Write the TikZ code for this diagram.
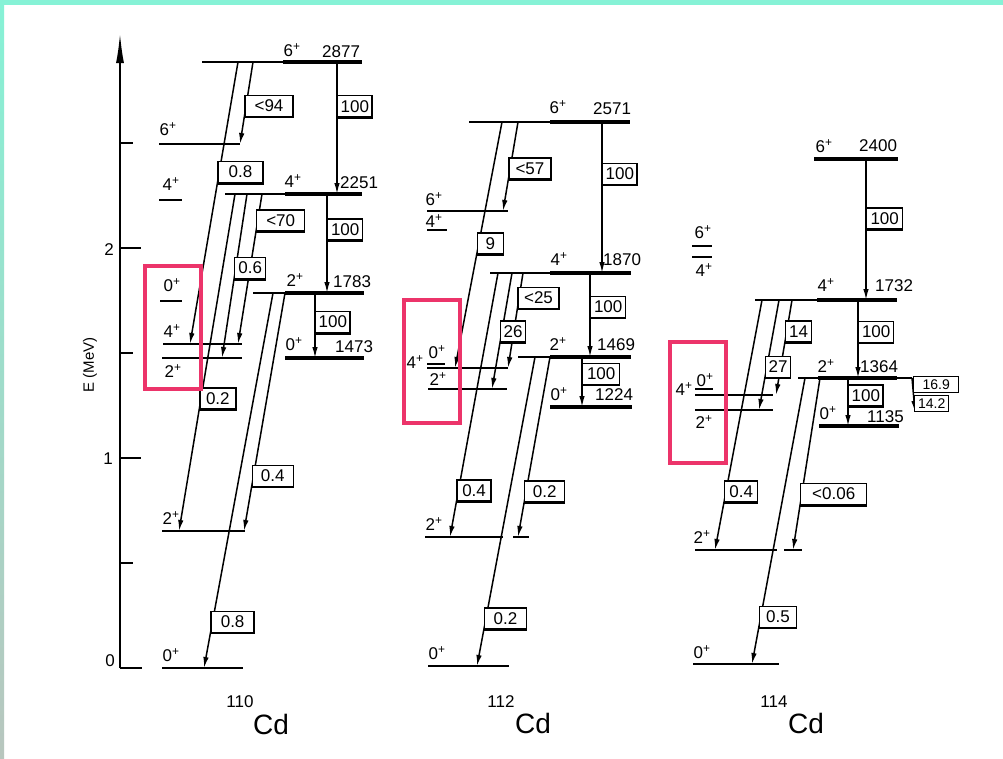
\documentclass[tikz,border=0pt]{standalone}
\usepackage{fontspec}
\setmainfont{Liberation Sans}
\usetikzlibrary{arrows.meta,calc}
\definecolor{mint}{RGB}{134,242,214}
\definecolor{mintlow}{RGB}{184,198,190}
\definecolor{hl}{RGB}{236,52,106}
\newcommand\jp[1]{#1\textsuperscript{+}}
% name, start, pos, end, width, text
\newcommand\lbox[6]{\node[lab,minimum width=#5] (#1) at ($(#2)!#3!(#4)$) {#6};
  \draw[line width=2.6pt] (#1.south west) -- (#1.south east);}
\begin{document}
\begin{tikzpicture}[x=1pt,y=-1pt,
  lev/.style={line width=1.8pt},
  band/.style={line width=4.8pt},
  tr/.style={line width=1.5pt,-{Latex[length=11pt,width=5.5pt]}},
  lab/.style={draw,line width=1.4pt,fill=white,anchor=south west,inner xsep=3pt,inner ysep=0pt,
    minimum height=21pt,font=\fontsize{17}{17}\selectfont},
  jlab/.style={font=\fontsize{17}{17}\selectfont,inner sep=0pt},
  elab/.style={font=\fontsize{17}{17}\selectfont,inner sep=0pt},
  hbox/.style={draw=hl,line width=4pt},
]
\useasboundingbox (0,0) rectangle (1003,758);
\fill[white] (0,0) rectangle (1003,758);
\fill[mint] (0,0) rectangle (1003,5);
\shade[top color=mint,bottom color=mintlow] (0,0) rectangle (4,758);

% ---------- axis ----------
\coordinate (ax0) at (120,668);
\coordinate (axtop) at (120,33);
\draw[line width=1.9pt,-{Latex[length=30pt,width=8pt]}] (ax0) -- (axtop);
\draw[lev] (120,668) -- (142,668) (120,563) -- (133,563) (120,458) -- (141,458)
           (120,353) -- (133,353) (120,248) -- (141,248) (120,143) -- (133,143);
\node[elab] (t0) at (110,661) {0};
\node[elab] (t1) at (108,459) {1};
\node[elab] (t2) at (109,250) {2};
\node[font=\fontsize{15}{15}\selectfont,rotate=90] (eax) at (90,365) {E (MeV)};

% ---------- 110Cd ----------
\draw[lev] (162,668) -- (243,668);
\draw[lev] (162,531) -- (245,531);
\draw[lev] (163,344) -- (242,344);
\draw[lev] (162,358) -- (242,358);
\draw[lev] (160,301) -- (182,301);
\draw[lev] (159,200) -- (182,200);
\draw[lev] (159,144) -- (240,144);
\draw[lev] (202,62) -- (283,62);  \draw[band] (283,62) -- (362,62);
\draw[lev] (225,194) -- (285,194); \draw[band] (285,194) -- (362,194);
\draw[lev] (253,293) -- (285,293); \draw[band] (285,293) -- (364,293);
\draw[band] (285,358) -- (364,358);

\node[jlab] (a0) at (171,655) {\jp{0}};
\node[jlab] (a2) at (171,518) {\jp{2}};
\node[jlab] (a4t) at (172,331) {\jp{4}};
\node[jlab] (a2t) at (173,371) {\jp{2}};
\node[jlab] (a0t) at (172,285) {\jp{0}};
\node[jlab] (a4l) at (171,184) {\jp{4}};
\node[jlab] (a6l) at (168,129) {\jp{6}};
\node[jlab] (a6b) at (292,50) {\jp{6}};
\node[jlab,anchor=west] (e2877) at (322,52) {2877};
\node[jlab] (a4b) at (293,181) {\jp{4}};
\node[jlab,anchor=west] (e2251) at (340,183) {2251};
\node[jlab] (a2b) at (295,280) {\jp{2}};
\node[jlab,anchor=west] (e1783) at (333,282) {1783};
\node[jlab] (a0b) at (294,344) {\jp{0}};
\node[jlab,anchor=west] (e1473) at (335,347) {1473};

\coordinate (p1s) at (337,62);  \coordinate (p1e) at (337,194);
\coordinate (p2s) at (327,194); \coordinate (p2e) at (327,293);
\coordinate (p3s) at (315,293); \coordinate (p3e) at (315,358);
\coordinate (p4s) at (238,62);  \coordinate (p4e) at (190,344);
\coordinate (p5s) at (253,62);  \coordinate (p5e) at (240,144);
\coordinate (p6s) at (262,194); \coordinate (p6e) at (238,344);
\coordinate (p7s) at (247,194); \coordinate (p7e) at (222,358);
\coordinate (p8s) at (235,194); \coordinate (p8e) at (179,531);
\coordinate (p9s) at (285,293); \coordinate (p9e) at (244,531);
\coordinate (p10s) at (273,293); \coordinate (p10e) at (204,668);
\foreach \i in {1,...,10} {\draw[tr] (p\i s) -- (p\i e);}
\lbox{pb1}{p1s}{0.42}{p1e}{31pt}{100}
\lbox{pb2}{p2s}{0.47}{p2e}{35pt}{100}
\lbox{pb3}{p3s}{0.62}{p3e}{33pt}{100}
\lbox{pb4}{p4s}{0.43}{p4e}{45pt}{0.8}
\lbox{pb5}{p5s}{0.67}{p5e}{48pt}{<94}
\lbox{pb6}{p6s}{0.25}{p6e}{48pt}{<70}
\lbox{pb7}{p7s}{0.52}{p7e}{31pt}{0.6}
\lbox{pb8}{p8s}{0.64}{p8e}{36pt}{0.2}
\lbox{pb9}{p9s}{0.815}{p9e}{41pt}{0.4}
\lbox{pb10}{p10s}{0.907}{p10e}{43pt}{0.8}

\node[elab] (m110) at (240,702) {110};
\node[font=\fontsize{28}{28}\selectfont,inner sep=0pt] (cd110) at (271,724) {Cd};

% ---------- 112Cd ----------
\draw[lev] (428,666) -- (509,666);
\draw[lev] (425,537) -- (503,537) (513,537) -- (529,537);
\draw[lev] (427,368) -- (508,368);
\draw[lev] (428,389) -- (507,389);
\draw[lev] (427,364) -- (445,364);
\draw[lev] (427,211) -- (508,211);
\draw[lev] (427,230) -- (447,230);
\draw[lev] (469,122) -- (550,122); \draw[band] (550,122) -- (630,122);
\draw[lev] (490,273) -- (550,273); \draw[band] (550,273) -- (631,273);
\draw[lev] (518,357) -- (550,357); \draw[band] (550,357) -- (631,357);
\draw[band] (550,407) -- (632,407);

\node[jlab] (b0) at (437,653) {\jp{0}};
\node[jlab] (b2) at (434,524) {\jp{2}};
\node[jlab] (b0t) at (437,352) {\jp{0}};
\node[jlab] (b4t) at (415,362) {\jp{4}};
\node[jlab] (b2t) at (438,379) {\jp{2}};
\node[jlab] (b6l) at (434,199) {\jp{6}};
\node[jlab] (b4l) at (434,221) {\jp{4}};
\node[jlab] (b6b) at (558,107) {\jp{6}};
\node[jlab,anchor=west] (e2571) at (593,109) {2571};
\node[jlab] (b4b) at (559,259) {\jp{4}};
\node[jlab,anchor=west] (e1870) at (603,260) {1870};
\node[jlab] (b2b) at (558,344) {\jp{2}};
\node[jlab,anchor=west] (e1469) at (597,345) {1469};
\node[jlab] (b0b) at (559,394) {\jp{0}};
\node[jlab,anchor=west] (e1224) at (595,395) {1224};

\coordinate (q1s) at (602,122); \coordinate (q1e) at (602,273);
\coordinate (q2s) at (590,273); \coordinate (q2e) at (590,357);
\coordinate (q3s) at (582,357); \coordinate (q3e) at (582,407);
\coordinate (q4s) at (518,122); \coordinate (q4e) at (503,211);
\coordinate (q5s) at (502,122); \coordinate (q5e) at (455,368);
\coordinate (q6s) at (523,273); \coordinate (q6e) at (508,368);
\coordinate (q7s) at (512,273); \coordinate (q7e) at (492,389);
\coordinate (q8s) at (498,273); \coordinate (q8e) at (450,537);
\coordinate (q9s) at (550,357); \coordinate (q9e) at (518,537);
\coordinate (q10s) at (535,357); \coordinate (q10e) at (477,666);
\foreach \i in {1,...,10} {\draw[tr] (q\i s) -- (q\i e);}
\lbox{qb1}{q1s}{0.417}{q1e}{33pt}{100}
\lbox{qb2}{q2s}{0.536}{q2e}{35pt}{100}
\lbox{qb3}{q3s}{0.56}{q3e}{37pt}{100}
\lbox{qb4}{q4s}{0.65}{q4e}{42pt}{<57}
\lbox{qb5}{q5s}{0.54}{q5e}{26pt}{9}
\lbox{qb6}{q6s}{0.38}{q6e}{41pt}{<25}
\lbox{qb7}{q7s}{0.60}{q7e}{24pt}{26}
\lbox{qb8}{q8s}{0.867}{q8e}{34pt}{0.4}
\lbox{qb9}{q9s}{0.81}{q9e}{40pt}{0.2}
\lbox{qb10}{q10s}{0.883}{q10e}{42pt}{0.2}

\node[elab] (m112) at (501,702) {112};
\node[font=\fontsize{28}{28}\selectfont,inner sep=0pt] (cd112) at (533,723) {Cd};

% ---------- 114Cd ----------
\draw[lev] (693,664) -- (779,664);
\draw[lev] (695,550) -- (777,550) (784,550) -- (802,550);
\draw[lev] (695,395) -- (773,395);
\draw[lev] (695,410) -- (773,410);
\draw[lev] (695,389) -- (713,389);
\draw[lev] (692,246) -- (712,246);
\draw[lev] (692,257) -- (712,257);
\draw[band] (814,159) -- (898,159);
\draw[lev] (755,300) -- (817,300); \draw[band] (817,300) -- (897,300);
\draw[lev] (798,378) -- (818,378); \draw[band] (818,378) -- (897,378);
\draw[lev] (897,378) -- (912,378);
\draw[band] (819,426) -- (899,426);

\node[jlab] (c0) at (702,652) {\jp{0}};
\node[jlab] (c2) at (702,537) {\jp{2}};
\node[jlab] (c0t) at (705,380) {\jp{0}};
\node[jlab] (c4t) at (684,389) {\jp{4}};
\node[jlab] (c2t) at (704,422) {\jp{2}};
\node[jlab] (c6l) at (703,232) {\jp{6}};
\node[jlab] (c4l) at (704,270) {\jp{4}};
\node[jlab] (c6b) at (824,146) {\jp{6}};
\node[jlab,anchor=west] (e2400) at (859,146) {2400};
\node[jlab] (c4b) at (826,285) {\jp{4}};
\node[jlab,anchor=west] (e1732) at (875,286) {1732};
\node[jlab] (c2b) at (826,366) {\jp{2}};
\node[jlab,anchor=west] (e1364) at (860,367) {1364};
\node[jlab] (c0b) at (828,413) {\jp{0}};
\node[jlab,anchor=west] (e1135) at (867,417) {1135};

\coordinate (r1s) at (866,159); \coordinate (r1e) at (866,300);
\coordinate (r2s) at (858,300); \coordinate (r2e) at (858,378);
\coordinate (r3s) at (848,378); \coordinate (r3e) at (848,426);
\coordinate (r4s) at (762,300); \coordinate (r4e) at (715,550);
\coordinate (r5s) at (779,300); \coordinate (r5e) at (759,410);
\coordinate (r6s) at (792,300); \coordinate (r6e) at (776,395);
\coordinate (r7s) at (820,378); \coordinate (r7e) at (793,550);
\coordinate (r8s) at (805,378); \coordinate (r8e) at (752,664);
\coordinate (r9s) at (912,378); \coordinate (r9e) at (915,412);
\foreach \i in {1,...,9} {\draw[tr] (r\i s) -- (r\i e);}
\lbox{rb1}{r1s}{0.50}{r1e}{36pt}{100}
\lbox{rb2}{r2s}{0.55}{r2e}{35pt}{100}
\lbox{rb3}{r3s}{0.60}{r3e}{34pt}{100}
\lbox{rb4}{r4s}{0.81}{r4e}{33pt}{0.4}
\lbox{rb6}{r6s}{0.45}{r6e}{26pt}{14}
\lbox{rb5}{r5s}{0.71}{r5e}{25pt}{27}
\lbox{rb7}{r7s}{0.74}{r7e}{66pt}{<0.06}
\lbox{rb8}{r8s}{0.874}{r8e}{37pt}{0.5}
\node[lab,minimum width=45pt,minimum height=16pt,font=\fontsize{14}{14}\selectfont] (x169) at (913,393) {16.9};
\node[lab,minimum width=34pt,minimum height=16pt,font=\fontsize{14}{14}\selectfont] (x142) at (914,412) {14.2};

\node[elab] (m114) at (774,702) {114};
\node[font=\fontsize{28}{28}\selectfont,inner sep=0pt] (cd114) at (806,723) {Cd};

% ---------- highlight boxes ----------
\draw[hbox] (145,266) rectangle (201,389);
\draw[hbox] (404,300) rectangle (460,423);
\draw[hbox] (670,342) rectangle (726,463);
\end{tikzpicture}
\end{document}
